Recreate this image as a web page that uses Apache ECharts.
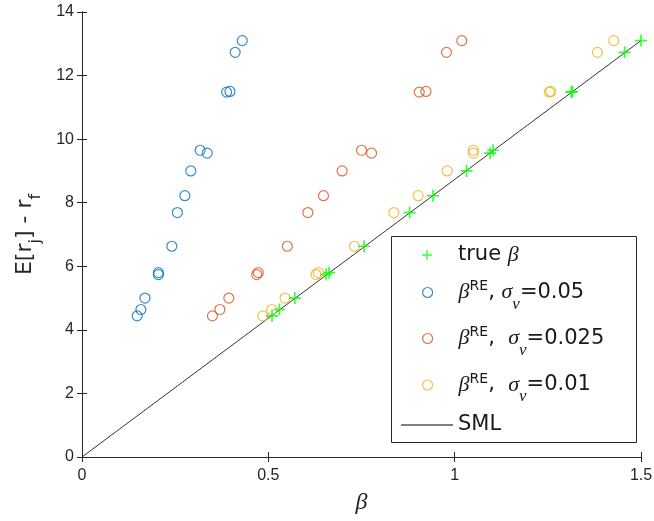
<!DOCTYPE html>
<html><head><meta charset="utf-8">
<script src="https://cdn.jsdelivr.net/npm/echarts@6/dist/echarts.min.js"></script>
<style>html,body{margin:0;padding:0;background:#fff}#c{width:654px;height:521px}</style>
</head><body><div id="c"></div><script>
// ---- data ----
const expectedReturn = [4.44, 4.64, 5.00, 5.74, 5.80, 6.63, 7.69, 8.22, 9.00, 9.56, 9.65, 11.48, 11.50, 12.73, 13.10];
const trueBeta    = [0.510, 0.530, 0.571, 0.655, 0.663, 0.757, 0.879, 0.942, 1.032, 1.095, 1.103, 1.313, 1.316, 1.456, 1.500];
const betaRE_005  = [0.148, 0.158, 0.169, 0.205, 0.205, 0.241, 0.256, 0.276, 0.292, 0.336, 0.317, 0.388, 0.397, 0.411, 0.430];
const betaRE_0025 = [0.350, 0.370, 0.394, 0.469, 0.473, 0.551, 0.606, 0.648, 0.698, 0.777, 0.750, 0.905, 0.923, 0.978, 1.019];
const betaRE_001  = [0.485, 0.509, 0.545, 0.628, 0.634, 0.731, 0.837, 0.902, 0.980, 1.050, 1.050, 1.254, 1.258, 1.383, 1.427];
const smlBeta   = [0, 1.5];
const smlReturn = [0, 13.10];
const xTicks = [0, 0.5, 1, 1.5];
const yTicks = [0, 2, 4, 6, 8, 10, 12, 14];
const seriesNames = ['true β', 'βRE, σν=0.05', 'βRE,  σν=0.025', 'βRE,  σν=0.01', 'SML'];
const legendLabels = [
  '{t|true }{g|β}',
  '{g|β}{sup|RE}{t|, }{g|σ}{sub|ν}{t|=0.05}',
  '{g|β}{sup|RE}{t|,  }{g|σ}{sub|ν}{t|=0.025}',
  '{g|β}{sup|RE}{t|,  }{g|σ}{sub|ν}{t|=0.01}',
  '{t|SML}'
];
const yAxisTitle = '{m|E[r}{sub|j}{m|] - r}{sub|f}';
const xAxisTitle = 'β';

// ---- styling ----
const SANS = 'Liberation Sans, Arial, Helvetica, sans-serif';
const WIDE = 'DejaVu Sans, Liberation Sans, sans-serif';
const SERIF = 'Liberation Serif, Times New Roman, serif';
const AX = '#262626';
const TXT = '#1a1a1a';
const colors = ['#00ff00', '#0072BD', '#D95319', '#EDB120', '#000000'];
const plusPath = 'path://M4.75,0h1.5v4.75h4.75v1.5h-4.75v4.75h-1.5v-4.75h-4.75v-1.5h4.75z';
const zip = (xs, ys) => xs.map((x, i) => [x, ys[i]]);

const LH = 44;
const legendCenters = [255, 292.5, 338.5, 385, 425];
const legendRich = {
  t: {fontSize: 21, fontFamily: WIDE, lineHeight: LH, color: TXT},
  g: {fontSize: 22, fontFamily: SERIF, fontStyle: 'italic', lineHeight: LH, color: TXT},
  sup: {fontSize: 14, fontFamily: WIDE, lineHeight: LH, padding: [0, 0, 12, 0], color: TXT},
  sub: {fontSize: 17, fontFamily: SERIF, fontStyle: 'italic', lineHeight: LH, padding: [24, 0, 0, 0], color: TXT}
};

const circleSeries = (name, xs, color) => ({
  type: 'scatter', name, data: zip(xs, expectedReturn),
  symbol: 'circle', symbolSize: 10,
  itemStyle: {color: 'rgba(0,0,0,0)', borderColor: color, borderWidth: 1.2},
  xAxisIndex: 0, yAxisIndex: 0
});

const axisCommon = {
  axisLine: {show: true, lineStyle: {color: AX, width: 1}},
  axisTick: {show: true, inside: true, length: 5, lineStyle: {color: AX, width: 1}},
  splitLine: {show: false}
};

const legends = seriesNames.map((n, i) => ({
  data: [n],
  left: i === 4 ? 401 : 422, top: legendCenters[i] - LH / 2,
  orient: 'vertical', padding: 0,
  itemWidth: 52, itemHeight: i === 4 ? 1 : 10,
  icon: i === 4 ? 'rect' : undefined,
  formatter: () => legendLabels[i],
  textStyle: {rich: legendRich, fontSize: 21, fontFamily: WIDE, lineHeight: LH, color: TXT},
  itemStyle: i === 0 ? {borderWidth: 0} : (i === 4 ? {color: '#000', borderWidth: 0} : {borderWidth: 1.2}),
  selectedMode: false,
  z: 5
}));

const option = {
  animation: false,
  backgroundColor: '#fff',
  grid: {left: 82, right: 13, top: 12, bottom: 64, containLabel: false, outerBoundsMode: 'none'},
  xAxis: [
    Object.assign({
      type: 'value', position: 'bottom',
      min: xTicks[0], max: xTicks[xTicks.length - 1], interval: xTicks[1] - xTicks[0],
      name: xAxisTitle, nameLocation: 'middle', nameGap: 34,
      nameTextStyle: {fontSize: 24, fontFamily: SERIF, fontStyle: 'italic', color: AX},
      axisLabel: {fontSize: 16, fontFamily: SANS, color: AX, margin: 11}
    }, axisCommon),
    Object.assign({
      type: 'value', position: 'top',
      min: xTicks[0], max: xTicks[xTicks.length - 1], interval: xTicks[1] - xTicks[0],
      axisLabel: {show: false}
    }, axisCommon)
  ],
  yAxis: [
    Object.assign({
      type: 'value', position: 'left',
      min: yTicks[0], max: yTicks[yTicks.length - 1], interval: yTicks[1] - yTicks[0],
      name: yAxisTitle, nameLocation: 'middle', nameGap: 29,
      nameTextStyle: {
        color: AX, lineHeight: 40,
        rich: {
          m: {fontSize: 22, fontFamily: WIDE, lineHeight: 40, color: AX},
          sub: {fontSize: 16, fontFamily: WIDE, lineHeight: 40, padding: [22, 0, 0, 0], color: AX}
        }
      },
      axisLabel: {fontSize: 16, fontFamily: SANS, color: AX, margin: 8}
    }, axisCommon),
    Object.assign({
      type: 'value', position: 'right',
      min: yTicks[0], max: yTicks[yTicks.length - 1], interval: yTicks[1] - yTicks[0],
      axisLabel: {show: false}
    }, axisCommon)
  ],
  graphic: [{
    type: 'rect', left: 391, top: 236, z: 3,
    shape: {width: 245, height: 206},
    style: {fill: '#fff', stroke: AX, lineWidth: 1}
  }],
  legend: legends,
  series: [
    {
      type: 'scatter', name: seriesNames[0], data: zip(trueBeta, expectedReturn),
      symbol: plusPath, symbolSize: 12,
      itemStyle: {color: colors[0]}, z: 3
    },
    circleSeries(seriesNames[1], betaRE_005, colors[1]),
    circleSeries(seriesNames[2], betaRE_0025, colors[2]),
    circleSeries(seriesNames[3], betaRE_001, colors[3]),
    {
      type: 'line', name: seriesNames[4], data: zip(smlBeta, smlReturn),
      symbol: 'none', lineStyle: {color: colors[4], width: 0.8}, itemStyle: {color: colors[4]},
      z: 1
    }
  ]
};
const chart = echarts.init(document.getElementById('c'), null, {renderer: 'canvas'});
chart.setOption(option);
</script></body></html>
